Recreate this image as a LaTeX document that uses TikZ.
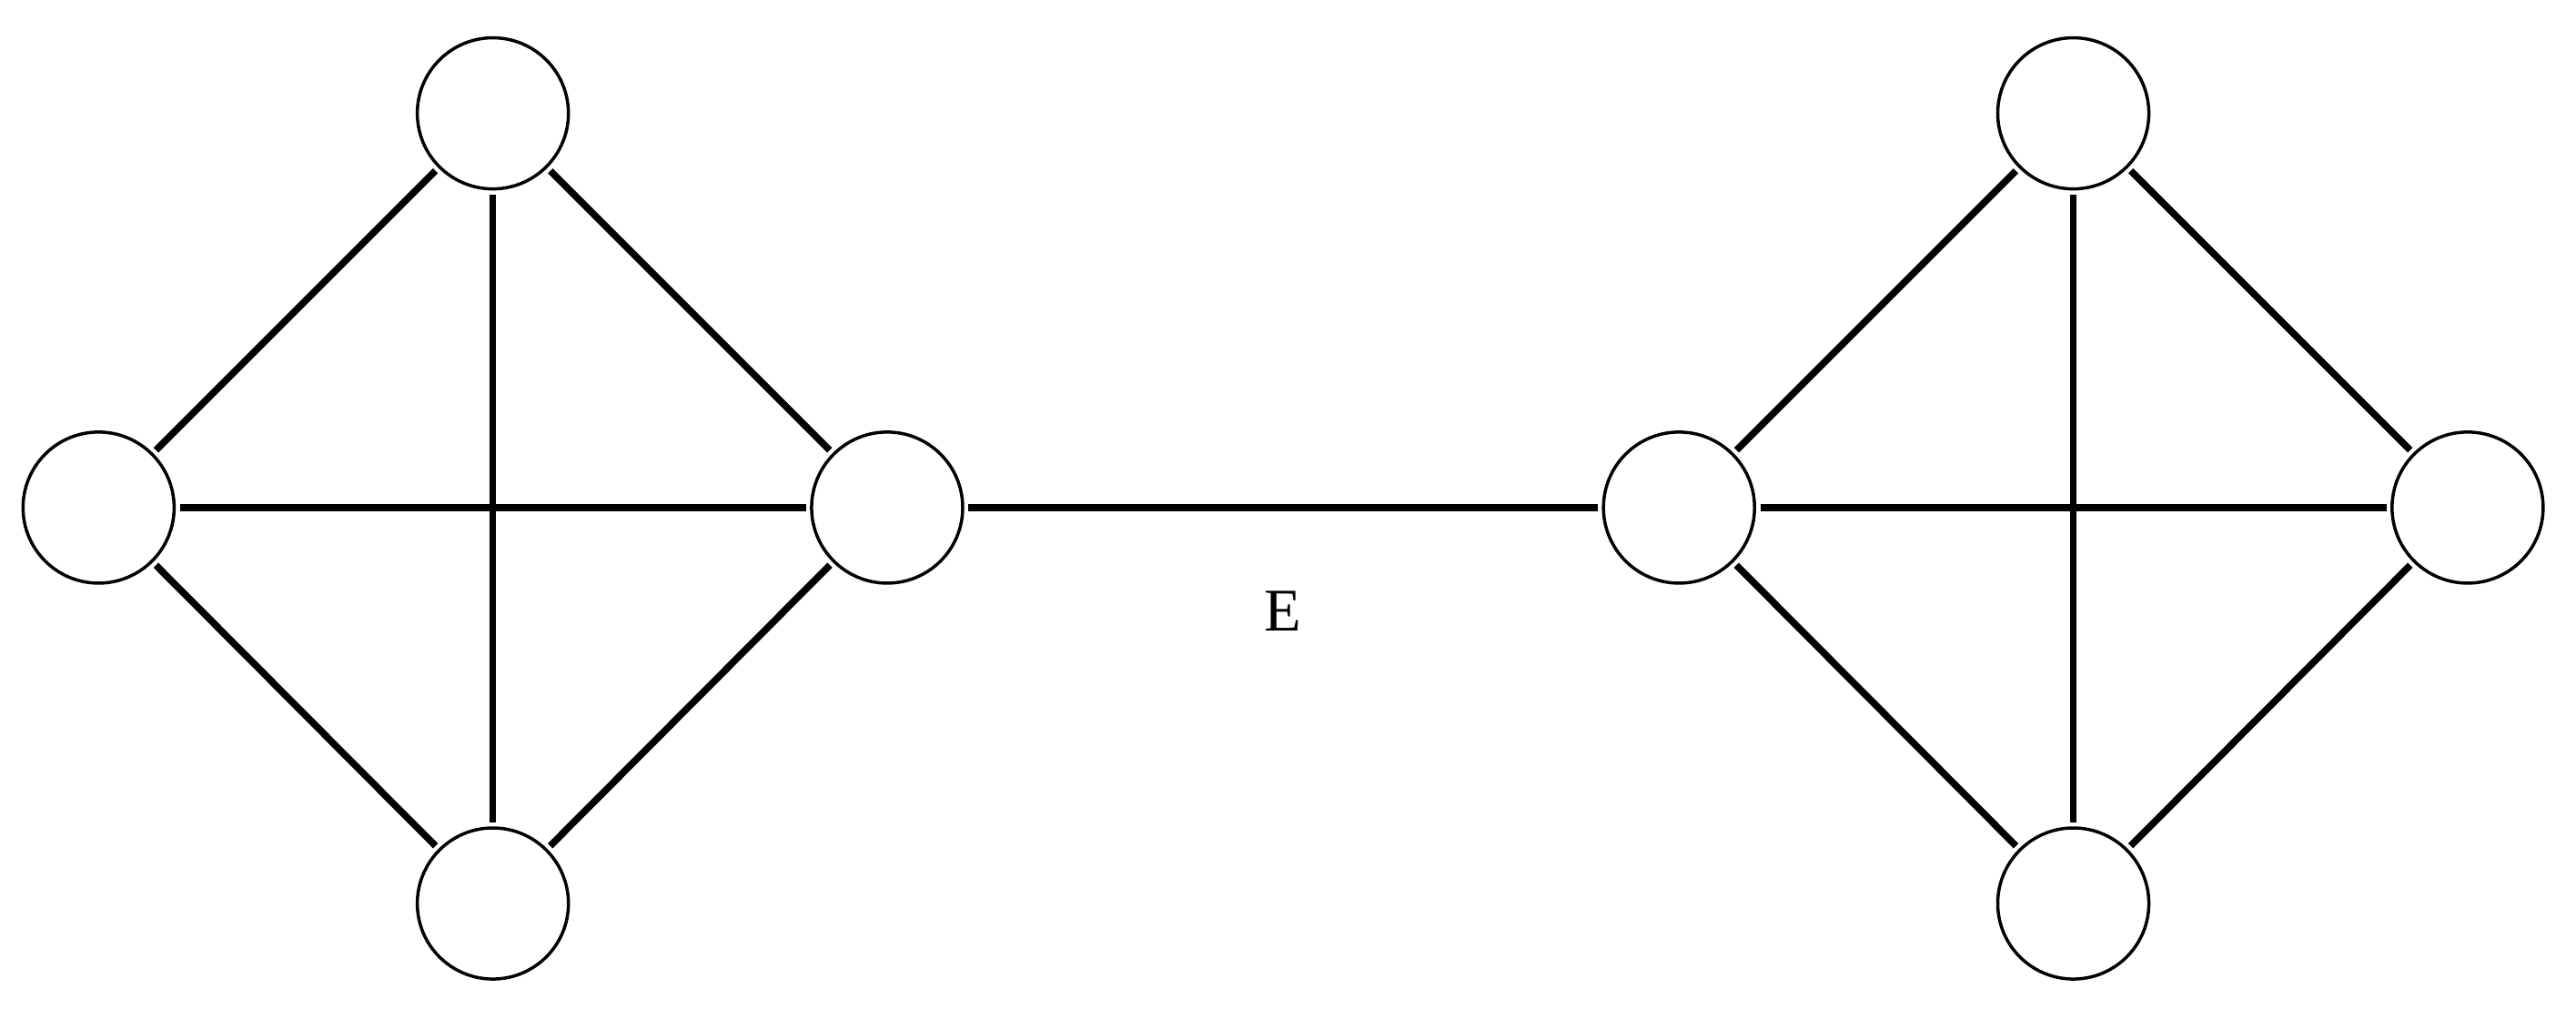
\documentclass[tikz,border=0pt]{standalone}
\usepackage{fontspec}
\setmainfont{Liberation Serif}
\begin{document}
\begin{tikzpicture}[x=0.02cm,y=-0.02cm,
  vtx/.style={circle,draw,line width=1.1pt,minimum size=1.84cm,inner sep=0pt},
  edge/.style={line width=2.4pt,shorten <=0.05cm,shorten >=0.05cm}]
\useasboundingbox (0,0) rectangle (1568,620);
\node[vtx] (a1) at (60,309) {};
\node[vtx] (a2) at (300,69) {};
\node[vtx] (a3) at (540,309) {};
\node[vtx] (a4) at (300,550) {};
\node[vtx] (b1) at (1022,309) {};
\node[vtx] (b2) at (1262,69) {};
\node[vtx] (b3) at (1502,309) {};
\node[vtx] (b4) at (1262,550) {};
\foreach \g in {a,b}{
  \draw[edge] (\g1) -- (\g2);
  \draw[edge] (\g2) -- (\g3);
  \draw[edge] (\g3) -- (\g4);
  \draw[edge] (\g4) -- (\g1);
  \draw[edge] (\g1) -- (\g3);
  \draw[edge] (\g2) -- (\g4);
}
\draw[edge] (a3) -- (b1);
\node[font=\fontsize{21}{24}\selectfont] (lbl) at (781,372) {E};
\end{tikzpicture}
\end{document}
